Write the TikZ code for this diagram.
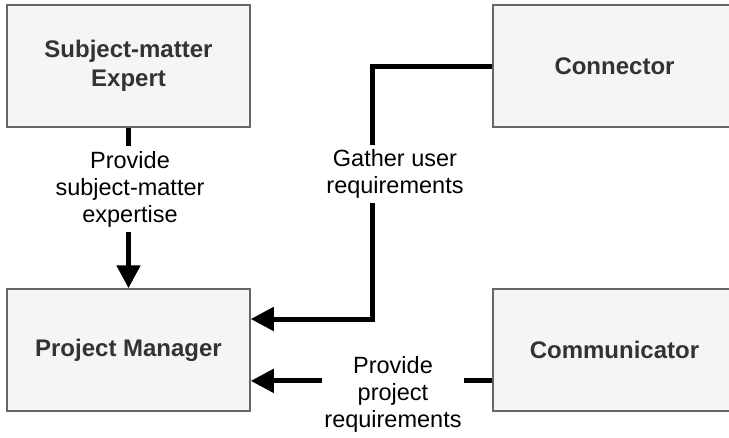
\documentclass[tikz,border=0pt]{standalone}
\usepackage{fontspec}
\setmainfont{Liberation Sans}
\usetikzlibrary{arrows.meta,calc}
\definecolor{boxfill}{HTML}{F5F5F5}
\definecolor{boxline}{HTML}{666666}
\definecolor{boxtext}{HTML}{333333}
\tikzset{
  box/.style={draw=boxline, fill=boxfill, line width=1.5pt, minimum width=243pt,
    minimum height=122pt, inner sep=0pt, align=center, text=boxtext,
    font=\fontsize{24}{29}\selectfont\bfseries},
  conn/.style={draw=black, line width=5pt, line join=miter,
    -{Triangle[length=23pt,width=23pt]}},
  lbl/.style={fill=white, align=center, text=black, inner xsep=2pt, inner ysep=5pt,
    font=\fontsize{23.5}{27}\selectfont}
}
\begin{document}
\begin{tikzpicture}[x=1pt,y=-1pt]
\clip (0,0) rectangle (729,437);
\fill[white] (0,0) rectangle (729,437);
\node[box] (sme) at (128.5,66) {Subject-matter\\Expert};
\node[box] (con) at (614.5,66) {Connector};
\node[box] (pm) at (128.5,350) {Project Manager};
\node[box] (com) at (614.5,350) {Communicator};
% connectors
\draw[conn] (sme.south) -- (pm.north);
\coordinate (g2) at (372,319);
\draw[conn] (con.west) -| (g2) -- (pm.east |- g2);
\coordinate (c3) at ($(com.north west)!0.75!(com.south west)$);
\draw[conn] (c3) -- (pm.east |- c3);
% labels
\node[lbl] (l1) at (130,189) {Provide\\subject-matter\\expertise};
\node[lbl] (l2) at (395,174) {Gather user\\requirements};
\node[lbl] (l3) at (393,394) {Provide\\project\\requirements};
\end{tikzpicture}
\end{document}
